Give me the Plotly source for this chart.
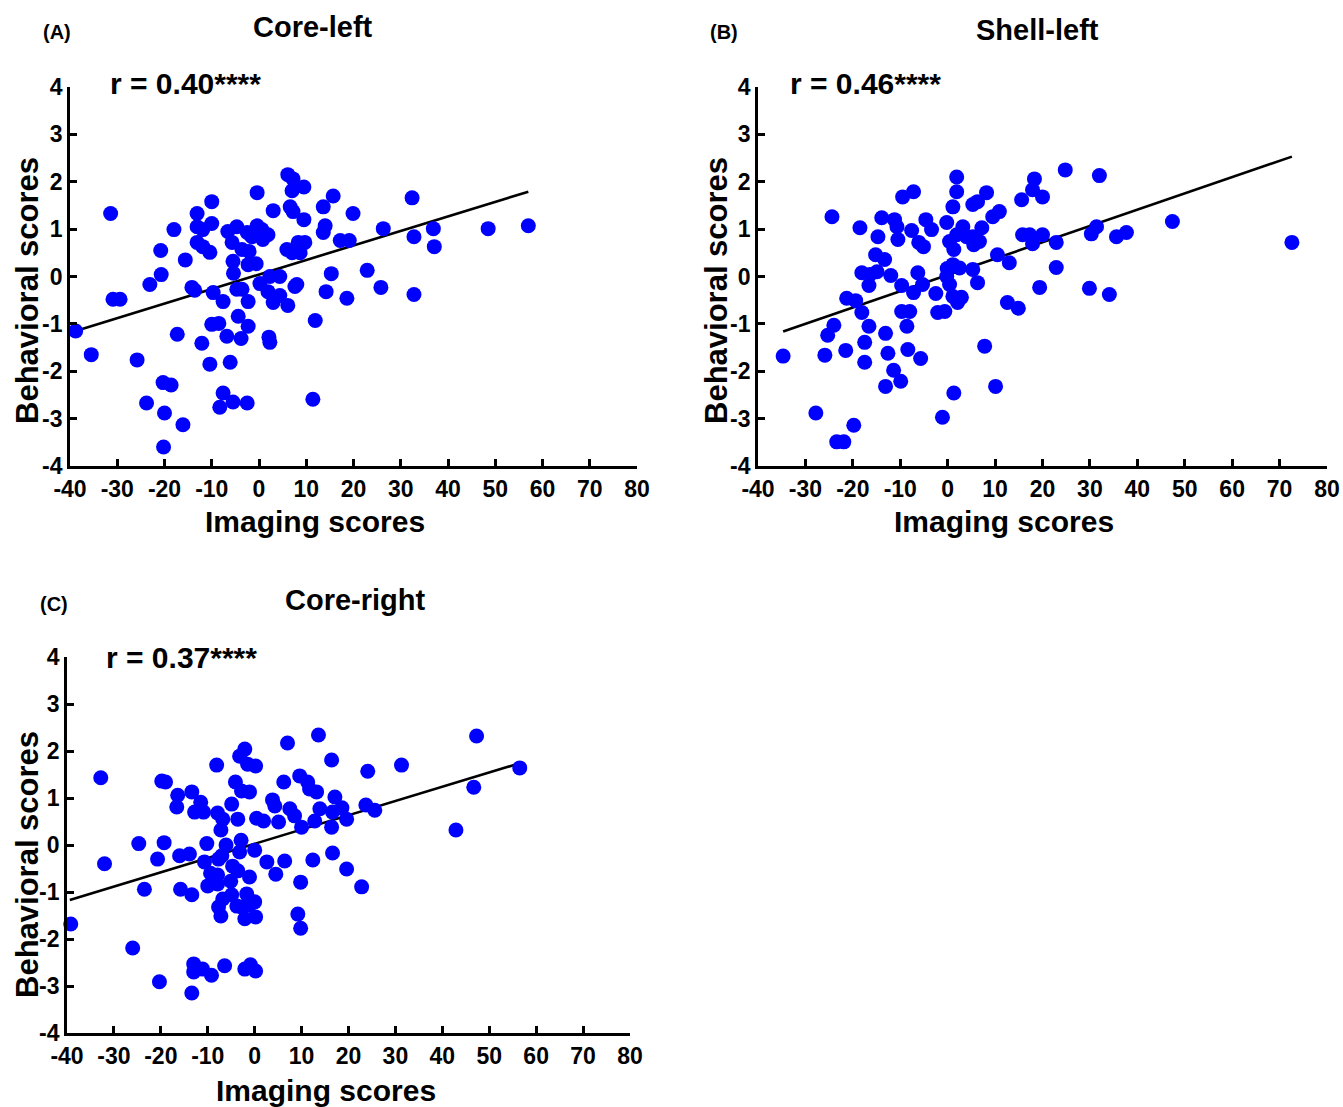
import plotly.graph_objects as go

W, H = 1343, 1107

# ---------------- data ----------------
a_x = [-38.8, -35.5, -31.4, -30.9, -29.4, -25.8, -23.8, -23.1, -20.8, -20.7, -20.3, -18.6, -20.0, -20.2,
       -18.0, -17.3, -16.1, -15.6, -14.2, -13.6, -13.1, -13.1, -11.9, -10.0, -10.0, -13.1, -11.9, -10.4,
       -12.1, -10.4, -10.0, -8.5, -9.7, -7.6, -6.8, -6.1, -7.6, -8.3, -5.5, -2.5, -6.6, -4.7, -5.7, -3.6,
       -2.1, -5.5, -5.4, -2.3, -0.6, -0.4, -0.4, 0.6, 1.3, 1.9, -2.5, -1.5, 0.8, 3.0, -4.7, -3.6, -2.3,
       -4.4, -2.3, -3.8, 0.2, 1.9, 3.0, 4.4, 6.1, 2.3, 4.4, 7.6, 8.0, 2.1, 2.3, 6.1, 7.2, 7.0, 9.5, 6.6,
       7.2, 9.5, 5.9, 7.0, 8.3, 9.7, 8.7, 11.4, 11.9, 13.6, 14.0, 13.6, 15.7, 17.2, 19.1, 19.9, 15.3,
       14.2, 18.6, 22.9, 25.8, 26.3, 32.4, 32.8, 32.8, 36.9, 37.1, 48.5, 57.0]
a_y = [-1.15, -1.65, 1.33, -0.48, -0.48, -1.76, -2.67, -0.17, 0.55, 0.04, -2.24, -2.29, -2.88, -3.6,
       0.99, -1.22, -3.13, 0.35, -0.23, -0.29, 1.33, 1.05, 0.99, 1.58, 1.12, 0.72, 0.63, 0.51,
       -1.41, -1.85, -1.01, -0.99, -0.34, -0.53, -1.26, -1.81, -2.46, -2.76, -2.65, -2.67, 0.95, 1.05, 0.72, 0.57,
       0.53, 0.32, 0.07, 0.25, 0.27, 1.77, 1.07, 0.99, 0.88, 0.88, 0.93, 0.84, 0.78, 1.39, -0.27, -0.27, -0.53,
       -0.84, -1.05, -1.31, -0.15, -0.32, -0.55, -0.4, -0.61, 0.0, 0.0, -0.21, -0.17, -1.28, -1.39, 2.15, 2.06, 1.81, 1.89, 1.47,
       1.37, 1.2, 0.57, 0.5, 0.72, 0.72, 0.5, -2.59, -0.93, 1.47, 1.07, 0.93, 1.7, 0.76, 0.76, 1.33, 0.06,
       -0.32, -0.46, 0.13, -0.23, 1.01, 1.66, 0.84, -0.38, 1.01, 0.63, 1.01, 1.07]
a_line_x = [-39.5, 57.0]
a_line_y = [-1.17, 1.79]

b_x = [-34.7, -27.8, -25.9, -25.3, -24.4, -24.0, -23.4, -21.9, -21.5, -21.3, -19.8, -19.4, -18.5, -18.1,
       -18.1, -17.5, -17.5, -16.6, -16.6, -16.4, -15.2, -14.9, -14.7, -13.9, -13.3, -13.1, -13.1, -12.6,
       -12.0, -11.4, -11.2, -10.7, -10.5, -9.9, -9.7, -9.7, -9.5, -8.6, -8.4, -8.0, -7.6, -7.2, -7.2, -6.3,
       -6.1, -5.7, -5.3, -5.1, -4.6, -3.4, -2.5, -2.1, -1.1, -0.6, -0.2, -0.1, -0.2, 0.4, 0.4, 1.1, 1.1, 1.1,
       1.3, 1.3, 1.9, 1.9, 1.9, 2.1, 2.5, 2.9, 3.2, 4.0, 5.3, 5.5, 5.3, 5.3, 6.3, 6.3, 6.7, 7.2, 7.8, 8.2,
       9.5, 10.1, 10.5, 10.9, 12.6, 13.0, 14.9, 15.6, 15.8, 17.3, 17.9, 17.9, 18.3, 19.4, 20.0, 20.0, 22.9,
       22.9, 24.8, 29.9, 30.3, 31.4, 32.0, 34.1, 35.6, 37.7, 47.4, 72.6]
b_y = [-1.68, -2.88, -1.66, -1.24, 1.26, -1.03, -3.49, -3.49, -1.56, -0.46, -3.14, -0.51, 1.03, 0.08,
       -0.76, -1.39, -1.81, -1.05, -0.19, 0.04, 0.46, 0.1, 0.84, 1.24, 0.36, -1.2, -2.32, -1.62,
       0.02, -1.98, 1.2, 1.05, 0.78, -2.21, -0.19, -0.74, 1.68, -1.05, -1.54, -0.74, 0.97, 1.79, -0.34, 0.08,
       0.72, -1.73, -0.17, 0.63, 1.2, 0.99, -0.36, -0.76, -2.97, -0.74, 1.14, 0.17, 0.0, -0.17, 0.74, 0.25, -0.42, 1.47,
       0.57, -2.46, 2.1, 1.79, 0.88, -0.55, 0.18, -0.44, 1.05, 0.84, 0.84, 0.67, 1.52, 0.15, 1.58, -0.13, 0.74, 1.03, -1.47, 1.77,
       1.26, -2.32, 0.46, 1.37, -0.55, 0.29, -0.67, 1.62, 0.88, 0.88, 0.69, 1.83, 2.06, -0.23, 1.68, 0.88, 0.72,
       0.19, 2.25, -0.25, 0.9, 1.05, 2.13, -0.38, 0.84, 0.93, 1.16, 0.72]
b_line_x = [-34.7, 72.6]
b_line_y = [-1.16, 2.53]

c_x = [-39.2, -32.8, -32.0, -26.0, -24.7, -23.5, -20.7, -20.3, -19.8, -19.0, -19.3, -16.4, -16.6, -16.0,
       -15.8, -13.9, -13.4, -13.4, -13.4, -13.0, -13.0, -12.8, -11.5, -11.1, -10.9, -10.2, -10.7, -10.0,
       -9.4, -9.2, -8.1, -7.9, -7.9, -7.9, -7.7, -7.7, -7.2, -7.2, -7.0, -6.8, -6.8, -6.4, -6.1, -5.1,
       -4.9, -4.9, -4.7, -4.1, -3.8, -3.6, -3.6, -3.2, -3.2, -2.9, -2.8, -2.8, -2.1, -2.1, -2.1, -1.7,
       -1.5, -1.1, -1.1, -1.1, -0.9, 0.0, 0.0, 0.2, 0.2, 0.2, 0.4, 1.9, 2.6, 3.8, 4.3, 4.5, 5.1, 6.2, 6.4,
       7.0, 7.5, 8.5, 9.2, 9.6, 9.8, 9.8, 10.0, 11.3, 11.7, 12.4, 12.8, 13.2, 13.6, 13.9, 16.4, 16.4, 16.6,
       16.6, 17.1, 18.6, 19.6, 19.6, 22.8, 23.7, 24.1, 25.6, 31.3, 42.9, 46.7, 47.3, 56.5]
c_y = [-1.68, 1.43, -0.4, -2.19, 0.03, -0.94, -0.3, -2.91, 1.36, 1.34, 0.05, 1.06, 0.81, -0.23,
       -0.94, -0.19, 1.13, -1.06, -3.15, -2.53, -2.7, 0.7, 0.91, -2.64, 0.7, 0.03, -0.36, -0.87,
       -0.6, -2.77, 1.7, 0.68, -0.64, -0.83, -0.3, -1.32, 0.32, -1.51, -0.23, 0.55, -1.15, -2.57, 0.0, -0.77,
       0.87, -1.06, -0.45, 1.34, -1.3, 0.55, -0.55, 1.89, -0.15, 0.1, 1.15, -1.32, 2.04, -1.57, -2.64, -1.04,
       1.72, 1.13, -0.68, -1.28, -2.55, -0.11, -1.21, 1.68, -1.53, -2.68, 0.57, 0.51, -0.36, 0.96, 0.83, -0.62, 0.49, 1.34, -0.34,
       2.17, 0.77, 0.62, -1.47, 1.47, -1.77, -0.79, 0.38, 1.34, 1.19, -0.32, 0.51, 1.13, 2.34, 0.77, 1.81, 0.38, -0.17,
       0.7, 1.02, 0.79, 0.55, -0.51, -0.89, 0.85, 1.57, 0.74, 1.7, 0.32, 1.23, 2.32, 1.64]
c_line_x = [-39.4, 56.5]
c_line_y = [-1.17, 1.74]

x_ticks = [-40, -30, -20, -10, 0, 10, 20, 30, 40, 50, 60, 70, 80]
x_tick_labels = ["-40", "-30", "-20", "-10", "0", "10", "20", "30", "40", "50", "60", "70", "80"]
y_ticks = [-4, -3, -2, -1, 0, 1, 2, 3, 4]
y_tick_labels = ["-4", "-3", "-2", "-1", "0", "1", "2", "3", "4"]
titles = ["Core-left", "Shell-left", "Core-right"]
letters = ["(A)", "(B)", "(C)"]
r_texts = ["r = 0.40****", "r = 0.46****", "r = 0.37****"]
x_title = "Imaging scores"
y_title = "Behavioral scores"

# ---------------- layout geometry (pixels) ----------------
FONT = "Liberation Sans"
BLUE = "#0000FF"
panels = [
    dict(xs=(a_x, a_y), line=(a_line_x, a_line_y), px=(70, 637), py=(87, 466)),
    dict(xs=(b_x, b_y), line=(b_line_x, b_line_y), px=(758, 1327), py=(87, 466)),
    dict(xs=(c_x, c_y), line=(c_line_x, c_line_y), px=(67, 630), py=(657, 1033)),
]

def fx(p):
    return p / W

def fy(p):
    return 1 - p / H

fig = go.Figure()
layout = dict(width=W, height=H, margin=dict(l=0, r=0, t=0, b=0, autoexpand=False),
              paper_bgcolor="white", plot_bgcolor="white", showlegend=False)

axis_common = dict(showgrid=False, zeroline=False, showline=True, linecolor="black", linewidth=2.8,
                   ticks="inside", ticklen=7, tickwidth=2.6, tickcolor="black", automargin=False,
                   tickfont=dict(family=FONT, size=23, color="black", weight="bold"))

for i, p in enumerate(panels):
    sfx = "" if i == 0 else str(i + 1)
    xa, ya = "x" + sfx, "y" + sfx
    fig.add_trace(go.Scatter(x=p["line"][0], y=p["line"][1], mode="lines",
                             line=dict(color="black", width=2.6), xaxis=xa, yaxis=ya, hoverinfo="skip"))
    fig.add_trace(go.Scatter(x=p["xs"][0], y=p["xs"][1], mode="markers",
                             marker=dict(color=BLUE, size=15, line=dict(width=0)),
                             cliponaxis=False, xaxis=xa, yaxis=ya))
    layout["xaxis" + sfx] = dict(axis_common, domain=[fx(p["px"][0]), fx(p["px"][1])], range=[-40, 80],
                                 tickvals=x_ticks, ticktext=x_tick_labels, anchor=ya)
    layout["yaxis" + sfx] = dict(axis_common, domain=[fy(p["py"][1]), fy(p["py"][0])], range=[-4, 4],
                                 tickvals=y_ticks, ticktext=y_tick_labels, anchor=xa)

fig.update_layout(**layout)

ann = []
def add_text(text, x, y, size, xanchor="center", yanchor="middle", angle=0):
    ann.append(dict(text="<b>" + text + "</b>", x=fx(x), y=fy(y), xref="paper", yref="paper",
                    showarrow=False, xanchor=xanchor, yanchor=yanchor, textangle=angle,
                    font=dict(family=FONT, size=size, color="black")))

# titles
add_text(titles[0], 313, 27, 29)
add_text(titles[1], 1037, 30, 29)
add_text(titles[2], 355, 600, 29)
# letters
add_text(letters[0], 41, 32, 20, xanchor="left")
add_text(letters[1], 708, 32, 20, xanchor="left")
add_text(letters[2], 38, 604, 20, xanchor="left")
# r values
add_text(r_texts[0], 108, 84, 30, xanchor="left")
add_text(r_texts[1], 788, 84, 30, xanchor="left")
add_text(r_texts[2], 104, 657, 30, xanchor="left")
# axis titles
add_text(x_title, 315, 521, 30)
add_text(x_title, 1004, 521, 30)
add_text(x_title, 326, 1090, 30)
add_text(y_title, 27, 291, 31, angle=-90)
add_text(y_title, 716, 291, 31, angle=-90)
add_text(y_title, 27, 865, 31, angle=-90)

fig.update_layout(annotations=ann)
fig.write_html("out.html")
